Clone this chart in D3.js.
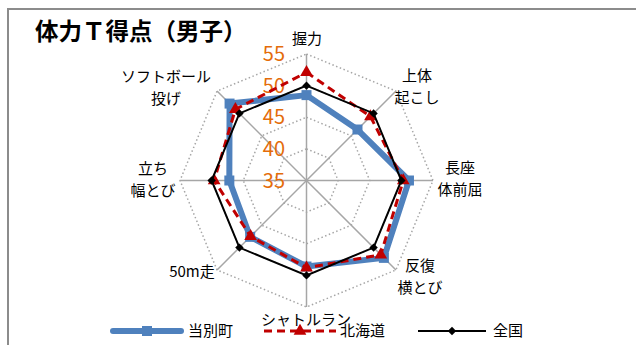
<!DOCTYPE html>
<html>
<head>
<meta charset="utf-8">
<script src="https://cdn.jsdelivr.net/npm/d3@7/dist/d3.min.js"></script>
<style>
  html, body { margin: 0; padding: 0; background: #fff; }
  svg { display: block; }
  text { font-family: "Noto Sans CJK JP", "Noto Sans", sans-serif; }
</style>
</head>
<body>
<svg id="chart" width="636" height="345"></svg>
<script>
// Test items, clockwise from the top
const categories = ["握力", "上体起こし", "長座体前屈", "反復横とび", "シャトルラン", "50m走", "立ち幅とび", "ソフトボール投げ"];
// Two-line labels for each item
const categoryLabels = [["握力"], ["上体", "起こし"], ["長座", "体前屈"], ["反復", "横とび"], ["シャトルラン"], ["50m走"], ["立ち", "幅とび"], ["ソフトボール", "投げ"]];
const seriesNames = ["当別町", "北海道", "全国"];
const tobetsu  = [48.5, 46.4, 51.2, 52.3, 48.6, 47.6, 47.2, 52.2];
const hokkaido = [52.1, 49.3, 50.3, 51.6, 48.8, 47.5, 49.6, 50.9];
const zenkoku  = [50, 50, 50, 50, 50, 50, 50, 50];
const tickValues = [35, 40, 45, 50, 55];

const svg = d3.select("#chart");
const cx = 306.5, cy = 180.5, R = 126.5;
const r = d3.scaleLinear().domain([35, 55]).range([0, R]);
const angle = d3.scalePoint().domain(d3.range(categories.length + 1)).range([0, 2 * Math.PI]);
const pt = (i, v) => {
  const a = angle(i);
  return [cx + r(v) * Math.sin(a), cy - r(v) * Math.cos(a)];
};

// frame
svg.append("path")
  .attr("d", "M8,345 L8,9 L636,9")
  .attr("fill", "none").attr("stroke", "#8c8c8c").attr("stroke-width", 2);

// title
svg.append("text")
  .attr("x", 35).attr("y", 40)
  .attr("font-size", 23.5).attr("font-weight", "bold").attr("fill", "#000")
  .text("体力Ｔ得点（男子）");

const g = svg.append("g");

// rings (dotted)
tickValues.slice(1).forEach(t => {
  g.append("path")
    .attr("d", d3.line()(categories.map((c, i) => pt(i, t))) + "Z")
    .attr("fill", "none").attr("stroke", "#a6a6a6").attr("stroke-width", 1.5)
    .attr("stroke-dasharray", "1.5,2.5");
});

// spokes
categories.forEach((c, i) => {
  const [x, y] = pt(i, 55);
  g.append("line").attr("x1", cx).attr("y1", cy).attr("x2", x).attr("y2", y)
    .attr("stroke", "#a6a6a6").attr("stroke-width", 1.5);
});

// tick labels
tickValues.forEach(t => {
  g.append("text")
    .attr("x", 285).attr("y", cy - r(t))
    .attr("dy", "0.35em").attr("text-anchor", "end")
    .attr("font-size", 20).attr("fill", "#E46C0A")
    .attr("font-family", "Roboto, sans-serif")
    .text(t);
});

// category labels
const labelPos = [[307, 39], [417, 76], [460, 168], [420, 266], [306, 320], [192, 272], [153, 169], [166, 77]];
categoryLabels.forEach((lines, i) => {
  const t = g.append("text").attr("text-anchor", "middle").attr("font-size", 15).attr("fill", "#000");
  lines.forEach((l, k) => {
    t.append("tspan").attr("x", labelPos[i][0]).attr("y", labelPos[i][1] + k * 22).attr("dy", "0.35em").text(l);
  });
});

const line = d3.line();
const closed = vals => line(vals.map((v, i) => pt(i, v))) + "Z";

// 当別町
g.append("path").attr("d", closed(tobetsu))
  .attr("fill", "none").attr("stroke", "#4F81BD").attr("stroke-width", 6).attr("stroke-linejoin", "round");
g.selectAll(".sq").data(tobetsu).join("rect")
  .attr("x", (v, i) => pt(i, v)[0] - 5).attr("y", (v, i) => pt(i, v)[1] - 5)
  .attr("width", 10).attr("height", 10).attr("fill", "#4F81BD");

// 北海道
g.append("path").attr("d", closed(hokkaido))
  .attr("fill", "none").attr("stroke", "#C00000").attr("stroke-width", 3).attr("stroke-dasharray", "8,5");
const tri = d3.symbol().type(d3.symbolTriangle).size(70);
g.selectAll(".tri").data(hokkaido).join("path")
  .attr("d", tri).attr("transform", (v, i) => `translate(${pt(i, v)[0]},${pt(i, v)[1]})`)
  .attr("fill", "#C00000");

// 全国
g.append("path").attr("d", closed(zenkoku))
  .attr("fill", "none").attr("stroke", "#000").attr("stroke-width", 2);
const dia = d3.symbol().type(d3.symbolDiamond2).size(45);
g.selectAll(".dia").data(zenkoku).join("path")
  .attr("d", dia).attr("transform", (v, i) => `translate(${pt(i, v)[0]},${pt(i, v)[1]})`)
  .attr("fill", "#000");

// legend
const lg = svg.append("g");
const ly = 331;
const legendItems = [
  { name: seriesNames[0], x0: 113, x1: 181, tx: 188 },
  { name: seriesNames[1], x0: 264, x1: 336, tx: 340 },
  { name: seriesNames[2], x0: 418, x1: 486, tx: 493 }
];
// 当別町
lg.append("line").attr("x1", legendItems[0].x0).attr("x2", legendItems[0].x1).attr("y1", ly).attr("y2", ly)
  .attr("stroke", "#4F81BD").attr("stroke-width", 6).attr("stroke-linecap", "round");
lg.append("rect").attr("x", (legendItems[0].x0 + legendItems[0].x1) / 2 - 5).attr("y", ly - 5).attr("width", 10).attr("height", 10).attr("fill", "#4F81BD");
// 北海道
lg.append("line").attr("x1", legendItems[1].x0).attr("x2", legendItems[1].x1).attr("y1", ly).attr("y2", ly)
  .attr("stroke", "#C00000").attr("stroke-width", 3).attr("stroke-dasharray", "8,5");
lg.append("path").attr("d", tri).attr("transform", `translate(${(legendItems[1].x0 + legendItems[1].x1) / 2},${ly})`).attr("fill", "#C00000");
// 全国
lg.append("line").attr("x1", legendItems[2].x0).attr("x2", legendItems[2].x1).attr("y1", ly).attr("y2", ly)
  .attr("stroke", "#000").attr("stroke-width", 2);
lg.append("path").attr("d", dia).attr("transform", `translate(${(legendItems[2].x0 + legendItems[2].x1) / 2},${ly})`).attr("fill", "#000");
legendItems.forEach(d => {
  lg.append("text").attr("x", d.tx).attr("y", ly).attr("dy", "0.35em").attr("font-size", 15).attr("fill", "#000").text(d.name);
});
</script>
</body>
</html>
